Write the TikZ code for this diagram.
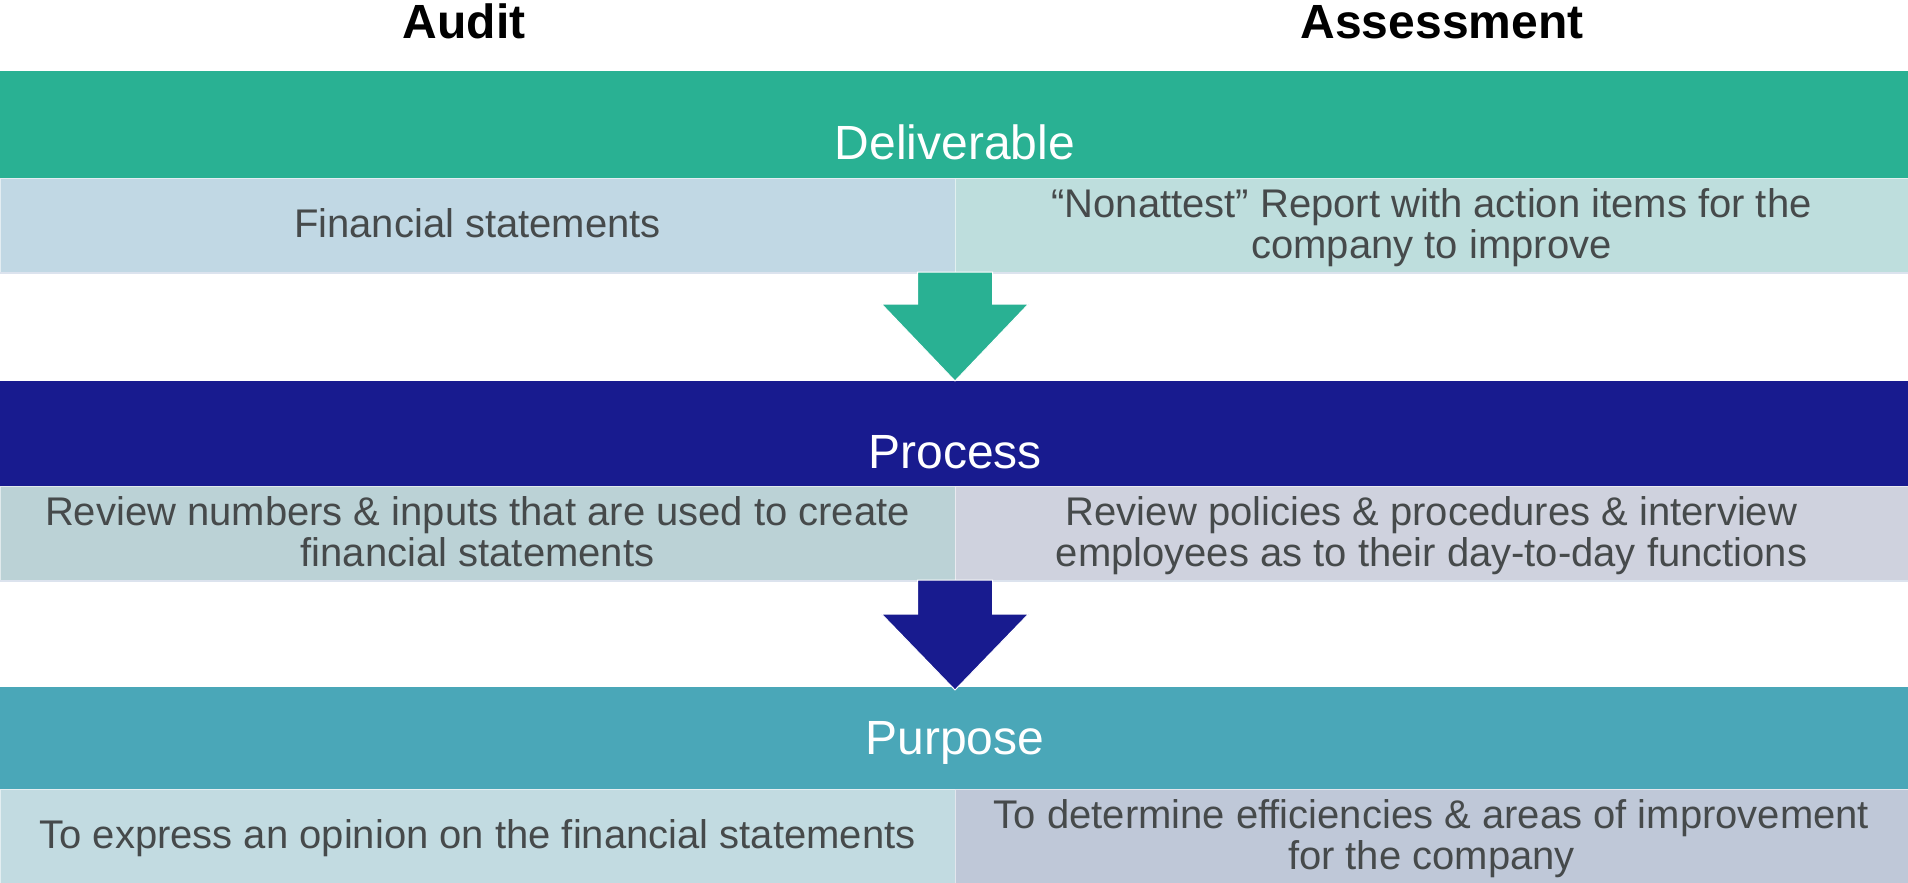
\documentclass[tikz,border=0pt]{standalone}
\usepackage{fontspec}
\setmainfont{Liberation Sans}
\usetikzlibrary{calc}
\definecolor{delivc}{HTML}{29B193}
\definecolor{procc}{HTML}{181B8F}
\definecolor{purpc}{HTML}{4AA7B8}
\definecolor{dL}{HTML}{C1D8E4}
\definecolor{dR}{HTML}{BEDEDD}
\definecolor{pL}{HTML}{BBD2D6}
\definecolor{pR}{HTML}{CFD2DE}
\definecolor{uL}{HTML}{C2DBE1}
\definecolor{uR}{HTML}{BFC8D8}
\definecolor{txtc}{HTML}{464A4B}
\definecolor{edgec}{HTML}{DCE3EE}
\begin{document}
\begin{tikzpicture}[x=1pt,y=-1pt,
  band/.style={rectangle, inner sep=0pt, outer sep=0pt, minimum width=1908pt, anchor=north west},
  cellbox/.style={rectangle, inner sep=0pt, outer sep=0pt, anchor=north west, minimum height=94pt, draw=white, draw opacity=0.55, line width=1pt},
  bandtext/.style={anchor=base, inner sep=0pt, text=white, font=\fontsize{48}{52}\selectfont},
  celltext/.style={anchor=base, inner sep=0pt, align=center, text=txtc, font=\fontsize{40}{41}\selectfont},
  headtext/.style={anchor=base, inner sep=0pt, text=black, font=\bfseries\fontsize{48}{52}\selectfont},
  blockarrow/.style={draw=white, line width=1pt, line join=miter}
]
\useasboundingbox (0,0) rectangle (1908,883);
\fill[white] (0,0) rectangle (1908,883);

% headers
\node[headtext] (hAudit) at (464,39) {Audit};
\node[headtext] (hAssess) at (1442,39) {Assessment};

% Deliverable
\node[band, fill=delivc, minimum height=107pt] (deliv) at (0,71) {};
\node[bandtext] (delivT) at (955,159) {Deliverable};
\node[cellbox, fill=dL, minimum width=955pt] (dLc) at (0,178) {};
\node[cellbox, fill=dR, minimum width=953pt] (dRc) at (955,178) {};
\fill[edgec] (dLc.south west) rectangle ($(dRc.south east)+(0,2)$);
\node[celltext] (dLt) at (477.5,237) {Financial statements};
\node[celltext] (dRt) at (1431.5,258) {“Nonattest” Report with action items for the\\company to improve};

% Process
\node[band, fill=procc, minimum height=105pt] (proc) at (0,381) {};
\node[bandtext] (procT) at (955,468) {Process};
\node[cellbox, fill=pL, minimum width=955pt] (pLc) at (0,486) {};
\node[cellbox, fill=pR, minimum width=953pt] (pRc) at (955,486) {};
\fill[edgec] (pLc.south west) rectangle ($(pRc.south east)+(0,2)$);
\node[celltext] (pLt) at (477.5,566) {Review numbers \& inputs that are used to create\\financial statements};
\node[celltext] (pRt) at (1431.5,566) {Review policies \& procedures \& interview\\employees as to their day-to-day functions};

% Purpose
\node[band, fill=purpc, minimum height=102pt] (purp) at (0,687) {};
\node[bandtext] (purpT) at (955,754) {Purpose};
\node[cellbox, fill=uL, minimum width=955pt] (uLc) at (0,789) {};
\node[cellbox, fill=uR, minimum width=953pt] (uRc) at (955,789) {};
\node[celltext] (uLt) at (477.5,848) {To express an opinion on the financial statements};
\node[celltext] (uRt) at (1431.5,869) {To determine efficiencies \& areas of improvement\\for the company};

% arrows
\coordinate (a1s) at (dLc.south east);
\coordinate (a1t) at (a1s |- proc.north);
\filldraw[blockarrow, fill=delivc]
  ($(a1s)+(-37.5,0)$) -- ($(a1s)+(37.5,0)$) -- ($(a1s)+(37.5,32)$) -- ($(a1s)+(73.5,32)$)
  -- (a1t) -- ($(a1s)+(-73.5,32)$) -- ($(a1s)+(-37.5,32)$) -- cycle;
\coordinate (a2s) at (pLc.south east);
\coordinate (a2t) at (a2s |- purp.north);
\filldraw[blockarrow, fill=procc]
  ($(a2s)+(-37.5,0)$) -- ($(a2s)+(37.5,0)$) -- ($(a2s)+(37.5,34)$) -- ($(a2s)+(73.5,34)$)
  -- ($(a2t)+(0,3)$) -- ($(a2s)+(-73.5,34)$) -- ($(a2s)+(-37.5,34)$) -- cycle;
\end{tikzpicture}
\end{document}
